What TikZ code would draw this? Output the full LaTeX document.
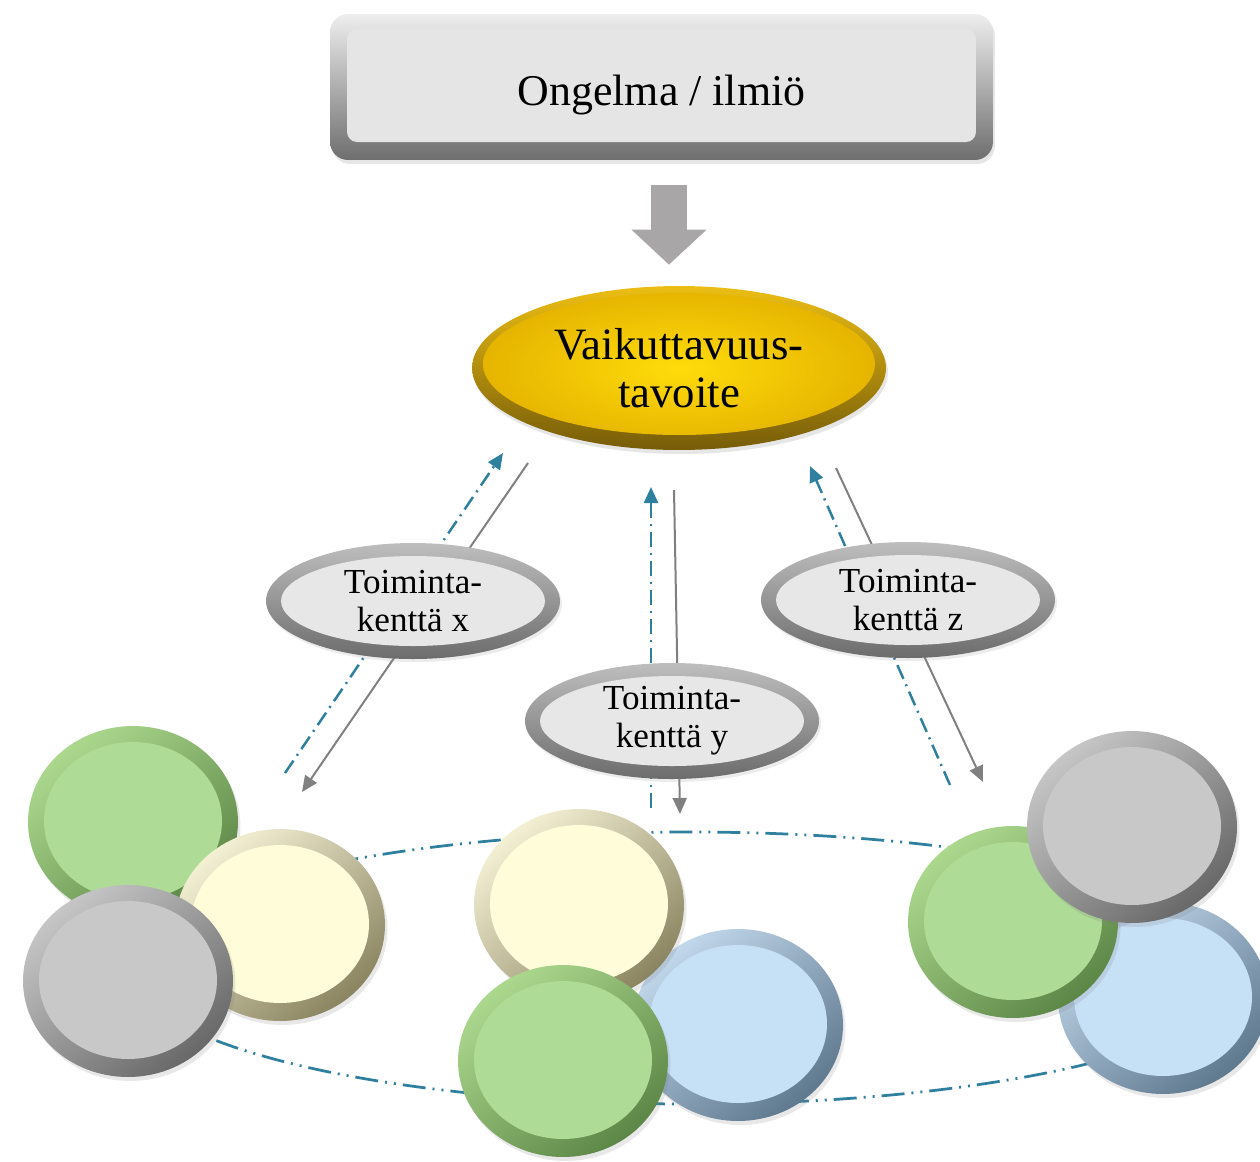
\documentclass[tikz,border=0pt]{standalone}
\usepackage{fontspec}
\setmainfont{Liberation Serif}
\usepackage{tikz}
\usetikzlibrary{shapes.geometric, arrows.meta, shadows}
\definecolor{arrowblue}{RGB}{46,128,158}
\definecolor{linegray}{RGB}{128,128,128}
\definecolor{blockgray}{RGB}{168,166,166}
\definecolor{boxface}{RGB}{229,229,229}
\definecolor{boxtop}{RGB}{238,238,238}
\definecolor{boxbottom}{RGB}{110,110,110}
\definecolor{goldtop}{RGB}{236,190,20}
\definecolor{goldbottom}{RGB}{118,92,8}
\definecolor{goldface}{RGB}{255,220,10}
\definecolor{goldedge}{RGB}{228,178,0}
\definecolor{fieldtop}{RGB}{190,190,190}
\definecolor{fieldbottom}{RGB}{108,108,108}
\definecolor{fieldface}{RGB}{231,231,231}
\definecolor{greentop}{RGB}{172,216,142}
\definecolor{greenbottom}{RGB}{92,134,70}
\definecolor{greenface}{RGB}{174,219,149}
\definecolor{creamtop}{RGB}{244,240,212}
\definecolor{creambottom}{RGB}{138,132,96}
\definecolor{creamface}{RGB}{254,252,217}
\definecolor{graytop}{RGB}{198,198,198}
\definecolor{graybottom}{RGB}{104,104,104}
\definecolor{grayface}{RGB}{200,200,200}
\definecolor{bluetop}{RGB}{194,216,236}
\definecolor{bluebottom}{RGB}{94,120,142}
\definecolor{blueface}{RGB}{198,224,246}

\begin{document}
\begin{tikzpicture}[x=0.02cm, y=-0.02cm,
  disc/.style n args={3}{ellipse, inner sep=0pt, minimum width=4.2cm, minimum height=3.84cm,
    top color=#1, bottom color=#2, shading angle=40,
    drop shadow={opacity=0.18, shadow xshift=0.05cm, shadow yshift=-0.08cm},
    path picture={\fill[#3] ([yshift=0.02cm]path picture bounding box.center) ellipse (1.78cm and 1.58cm);}},
  field/.style={ellipse, inner sep=0pt, minimum width=5.88cm, minimum height=2.32cm,
    top color=fieldtop, bottom color=fieldbottom,
    drop shadow={opacity=0.15, shadow xshift=0.04cm, shadow yshift=-0.06cm},
    path picture={\fill[fieldface] (path picture bounding box.center) ellipse (2.64cm and 0.9cm);},
    font=\fontsize{20}{21.5}\selectfont, align=center},
  down/.style={linegray, line width=0.04cm, -{Triangle[length=0.32cm, width=0.28cm]}},
  up/.style={arrowblue, line width=0.05cm, dash pattern=on 0.3cm off 0.12cm on 0.04cm off 0.12cm,
    -{Triangle[length=0.32cm, width=0.28cm]}}
]
\useasboundingbox (0,0) rectangle (1260,1161);

\draw[arrowblue, line width=0.055cm, dash pattern=on 0.46cm off 0.14cm on 0.04cm off 0.14cm on 0.04cm off 0.14cm] (690,968) ellipse (560 and 136);

\node[disc={greentop}{greenbottom}{greenface}] (xgreen) at (133,822) {};
\node[disc={creamtop}{creambottom}{creamface}] (xcream) at (280,925) {};
\node[disc={graytop}{graybottom}{grayface}] (xgray) at (128,981) {};

\node[disc={bluetop}{bluebottom}{blueface}] (yblue) at (738,1025) {};
\node[disc={creamtop}{creambottom}{creamface}] (ycream) at (579,905) {};
\node[disc={greentop}{greenbottom}{greenface}] (ygreen) at (563,1061) {};

\node[disc={bluetop}{bluebottom}{blueface}] (zblue) at (1163,998) {};
\node[disc={greentop}{greenbottom}{greenface}] (zgreen) at (1013,922) {};
\node[disc={graytop}{graybottom}{grayface}] (zgray) at (1132,827) {};

\node[rounded corners=0.36cm, inner sep=0pt, minimum width=13.26cm, minimum height=2.92cm,
  top color=boxtop, bottom color=boxbottom,
  drop shadow={opacity=0.2, shadow xshift=0.04cm, shadow yshift=-0.08cm},
  path picture={\fill[boxface, rounded corners=0.2cm] ([shift={(0.34cm,0.36cm)}]path picture bounding box.south west) rectangle ([shift={(-0.34cm,-0.3cm)}]path picture bounding box.north east);},
  text height=0.93cm, text depth=0.2cm,
  font=\fontsize{25}{28}\selectfont] (problem) at (661.5,87) {Ongelma / ilmiö};

\node[ellipse, inner sep=0pt, minimum width=8.28cm, minimum height=3.28cm,
  top color=goldtop, bottom color=goldbottom,
  drop shadow={opacity=0.2, shadow xshift=0.04cm, shadow yshift=-0.08cm},
  path picture={\shade[inner color=goldface, outer color=goldedge] ([yshift=0.08cm]path picture bounding box.center) ellipse (3.92cm and 1.42cm);},
  font=\fontsize{25.5}{27.5}\selectfont, align=center] (goal) at (679,368) {Vaikuttavuus-\\tavoite};

\coordinate (ax) at (669,0);
\draw[blockgray, line width=0.72cm, shorten <=0.5cm, shorten >=0.42cm, -{Triangle[length=0.7cm, width=1.46cm]}] (problem.south -| ax) -- (goal.north -| ax);

\coordinate (xa) at (528,463);
\coordinate (xb) at (302,792);
\coordinate (xc) at (285,773);
\coordinate (xd) at (503,453);
\coordinate (ya) at (674,490);
\coordinate (yb) at (680,814);
\coordinate (yc) at (651,808);
\coordinate (yd) at (651,487);
\coordinate (za) at (836,468);
\coordinate (zb) at (983,782);
\coordinate (zc) at (950,785);
\coordinate (zd) at (810,466);

\draw[down] (xa) -- (xb);
\draw[up] (xc) -- (xd);
\draw[down] (ya) -- (yb);
\draw[up] (yc) -- (yd);
\draw[down] (za) -- (zb);
\draw[up] (zc) -- (zd);

\node[field] (fieldx) at (413,601) {Toiminta-\\kenttä x};
\node[field] (fieldy) at (672,721) {Toiminta-\\kenttä y};
\node[field] (fieldz) at (908,600) {Toiminta-\\kenttä z};
\end{tikzpicture}
\end{document}
